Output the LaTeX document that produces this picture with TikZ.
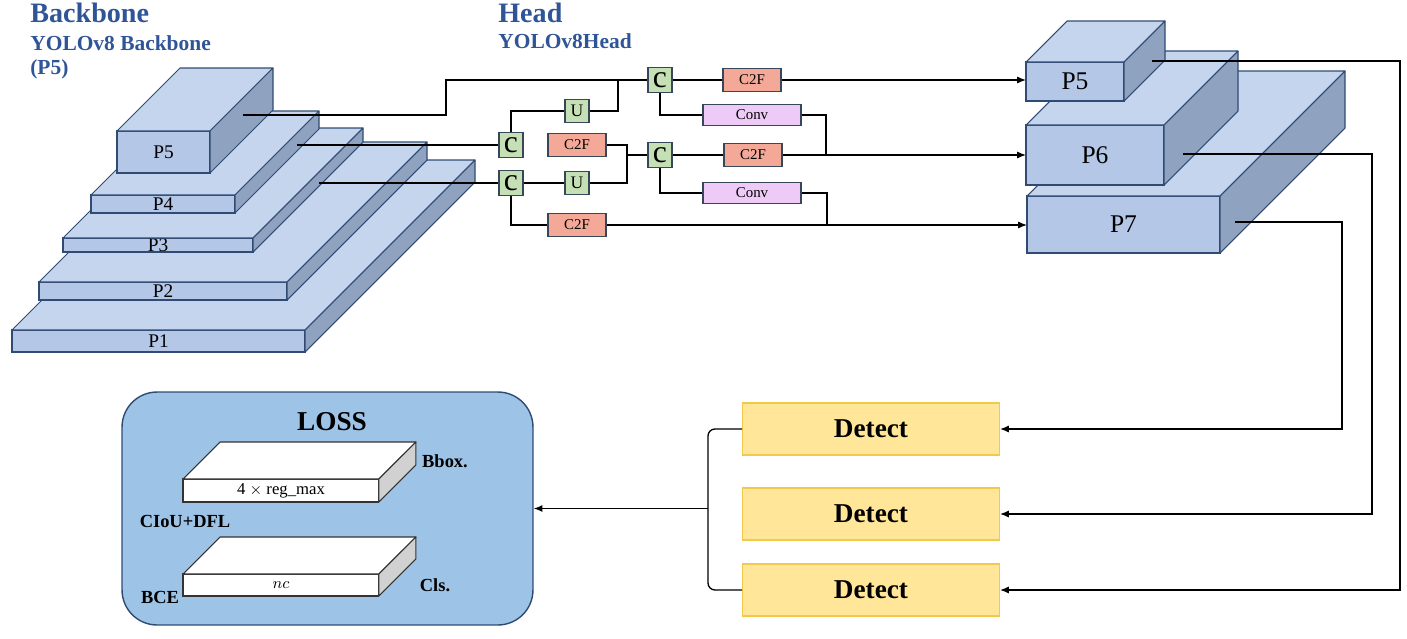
\documentclass[tikz,border=0pt]{standalone}
\usepackage{fontspec}
\setmainfont{Liberation Serif}
\usepackage{tikz}
\usetikzlibrary{calc,arrows.meta}
\definecolor{ttl}{HTML}{2F5597}
\definecolor{edge}{HTML}{2F4B73}
\definecolor{fcol}{HTML}{B4C7E7}
\definecolor{tcol}{HTML}{C5D5EE}
\definecolor{scol}{HTML}{8FA2BF}
\definecolor{cgreen}{HTML}{C5E0B4}
\definecolor{csalmon}{HTML}{F4A898}
\definecolor{clav}{HTML}{EECBF7}
\definecolor{hedge}{HTML}{37475A}
\definecolor{dfill}{HTML}{FFE699}
\definecolor{dedge}{HTML}{F2C94C}
\definecolor{lfill}{HTML}{9DC3E6}

\begin{document}
\begin{tikzpicture}[x=0.02cm,y=-0.02cm,>={Latex[length=5pt,width=4pt]},
    face/.style={draw=edge, fill=fcol, line width=0.6pt, inner sep=0pt, outer sep=0pt, anchor=north west},
    top/.style={draw=edge, fill=tcol, line width=0.6pt, line join=round},
    side/.style={draw=edge, fill=scol, line width=0.6pt, line join=round},
    wface/.style={draw=black!80, fill=white, line width=0.6pt, inner sep=0pt, outer sep=0pt, anchor=north west, font=\fontsize{9.5}{9.5}\selectfont},
    wtop/.style={draw=black!80, fill=white, line width=0.6pt, line join=round},
    wside/.style={draw=black!80, fill=black!18, line width=0.6pt, line join=round},
    hbox/.style={draw=hedge, line width=0.7pt, inner sep=0pt},
    cbox/.style={hbox, fill=cgreen, minimum width=0.48cm, minimum height=0.5cm, font=\fontsize{18}{18}\selectfont},
    ubox/.style={hbox, fill=cgreen, minimum width=0.48cm, minimum height=0.46cm, font=\fontsize{10}{10}\selectfont},
    c2f/.style={hbox, fill=csalmon, minimum width=1.16cm, minimum height=0.46cm, font=\fontsize{8.5}{8.5}\selectfont},
    conv/.style={hbox, fill=clav, minimum width=1.96cm, minimum height=0.42cm, font=\fontsize{8.5}{8.5}\selectfont},
    detect/.style={draw=dedge, fill=dfill, line width=0.6pt, minimum width=5.14cm, minimum height=1.04cm, font=\fontsize{15.5}{15.5}\selectfont\bfseries},
    title/.style={anchor=west, text=ttl, font=\fontsize{16}{16}\selectfont\bfseries, inner sep=0pt},
    subtitle/.style={anchor=west, text=ttl, font=\fontsize{12.2}{12.2}\selectfont\bfseries, inner sep=0pt},
    lab/.style={font=\fontsize{10.5}{10.5}\selectfont\bfseries, inner sep=0pt},
    wire/.style={line width=0.75pt},
    arr/.style={wire, ->}]

  \useasboundingbox (0,0) rectangle (1407,639);

  \node[title] (tbb) at (30,13) {Backbone};
  \node[subtitle] (tbb1) at (30,43) {YOLOv8 Backbone};
  \node[subtitle] (tbb2) at (30,69) {(P5)};
  \node[title] (thd) at (498,13) {Head};
  \node[subtitle] (thd1) at (498,41) {YOLOv8Head};

  \foreach \n/\x/\y/\w/\h/\d in {1/12/330/293/22/170, 2/39/282/248/18/140,
      3/63/238/190/14/110, 4/91/195/144/18/84, 5/117/131/93/42/63} {
    \node[face, minimum width=\w*0.02cm, minimum height=\h*0.02cm,
      font=\fontsize{11}{11}\selectfont] (bb\n) at (\x,\y) {P\n};
    \draw[top] (bb\n.north west) -- ++(\d,-\d) -- ++(\w,0) -- (bb\n.north east) -- cycle;
    \draw[side] (bb\n.north east) -- ++(\d,-\d) -- ++(0,\h) -- (bb\n.south east) -- cycle;
  }

  \foreach \n/\x/\y/\w/\h/\d in {7/1027/196/193/57/125, 6/1026/125/138/60/74,
      5/1026/62/98/39/41} {
    \node[face, minimum width=\w*0.02cm, minimum height=\h*0.02cm,
      font=\fontsize{14.5}{14.5}\selectfont] (hp\n) at (\x,\y) {P\n};
    \draw[top] (hp\n.north west) -- ++(\d,-\d) -- ++(\w,0) -- (hp\n.north east) -- cycle;
    \draw[side] (hp\n.north east) -- ++(\d,-\d) -- ++(0,\h) -- (hp\n.south east) -- cycle;
  }

  \node[cbox] (c1) at (511,145) {c};
  \node[cbox] (c2) at (511,183) {c};
  \node[cbox] (c3) at (660,80) {c};
  \node[cbox] (c4) at (660,155) {c};
  \node[ubox] (u1) at (577,111) {U};
  \node[ubox] (u2) at (577,183) {U};
  \node[c2f] (f1) at (577,145) {C2F};
  \node[c2f] (f2) at (577,225) {C2F};
  \node[c2f] (f3) at (752,80) {C2F};
  \node[c2f] (f4) at (753,155) {C2F};
  \node[conv] (v1) at (752,115) {Conv};
  \node[conv] (v2) at (752,193) {Conv};

  \coordinate (s5) at (243,115);
  \coordinate (s4) at (297,145);
  \coordinate (s3) at (319,183);
  \coordinate (j1) at (627,155);
  \coordinate (j2) at (826,155);
  \coordinate (j3) at (827,225);
  \coordinate (j4) at (618,80);

  \draw[wire] (s5) -- ++(203,0) |- (c3.west);
  \draw[wire] (u1.east) -| (j4);
  \draw[wire] (u1.west) -| (c1.north);
  \draw[wire] (s4) -- (c1.west);
  \draw[wire] (s3) -- (c2.west);
  \draw[wire] (c2) -- (u2);
  \draw[wire] (f1.east) -| (j1) |- (u2.east);
  \draw[wire] (j1) -- (c4.west);
  \draw[wire] (c2.south) |- (f2.west);
  \draw[wire] (c3) -- (f3);
  \draw[wire] (c3.south) |- (v1.west);
  \draw[wire] (v1.east) -| (j2);
  \draw[wire] (c4) -- (f4);
  \draw[wire] (c4.south) |- (v2.west);
  \draw[wire] (v2.east) -| (j3);
  \draw[arr] (f3.east) -- (f3.east -| hp5.west);
  \draw[arr] (f4.east) -- (f4.east -| hp6.west);
  \draw[arr] (f2.east) -- (f2.east -| hp7.west);

  \node[detect] (d1) at (871,429) {Detect};
  \node[detect] (d2) at (871,514) {Detect};
  \node[detect] (d3) at (871,590) {Detect};

  \coordinate (r5) at (1152,61);
  \coordinate (r6) at (1183,154);
  \coordinate (r7) at (1235,222);
  \draw[arr] (r5) -- (1400,61) |- (d3.east);
  \draw[arr] (r6) -- (1372,154) |- (d2.east);
  \draw[arr] (r7) -- (1342,222) |- (d1.east);

  \node[draw=edge, fill=lfill, line width=0.8pt, rounded corners=0.7cm,
    minimum width=8.22cm, minimum height=4.66cm] (loss) at (327.5,508.5) {};
  \node[font=\fontsize{15.5}{15.5}\selectfont\bfseries] (tloss) at (332,422) {LOSS};

  \coordinate (jd) at (708,508.5);
  \draw[wire, rounded corners=4pt] (d1.west) -| (jd) |- (d3.west);
  \draw[arr] (jd) -- (loss.east);

  \node[wface, minimum width=3.92cm, minimum height=0.46cm] (bx) at (183,479) {4 $\times$ reg\_max};
  \draw[wtop] (bx.north west) -- ++(37,-37) -- ++(196,0) -- (bx.north east) -- cycle;
  \draw[wside] (bx.north east) -- ++(37,-37) -- ++(0,23) -- (bx.south east) -- cycle;
  \node[wface, minimum width=3.92cm, minimum height=0.44cm] (cl) at (183,574) {$nc$};
  \draw[wtop] (cl.north west) -- ++(37,-37) -- ++(196,0) -- (cl.north east) -- cycle;
  \draw[wside] (cl.north east) -- ++(37,-37) -- ++(0,22) -- (cl.south east) -- cycle;

  \node[lab] (lbb) at (445,461) {Bbox.};
  \node[lab] (lci) at (185,521) {CIoU+DFL};
  \node[lab] (lcl) at (435,585) {Cls.};
  \node[lab] (lbc) at (160,597) {BCE};
\end{tikzpicture}
\end{document}
